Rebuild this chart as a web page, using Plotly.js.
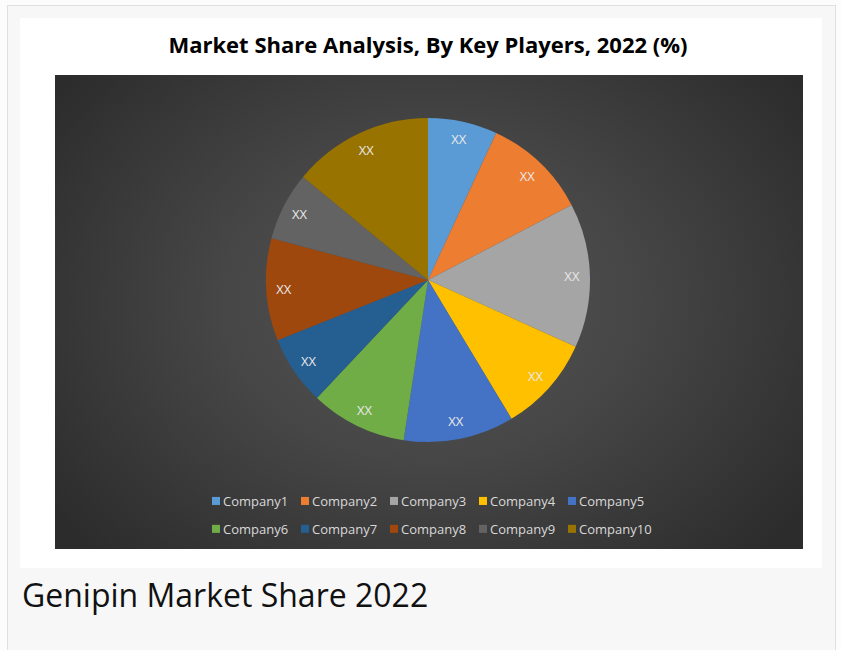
<!DOCTYPE html>
<html><head><meta charset="utf-8">
<script src="https://cdn.plot.ly/plotly-3.0.1.min.js"></script>
<style>
html,body{margin:0;padding:0;width:841px;height:650px;overflow:hidden;background:#fcfcfc;}
#frame{position:absolute;left:7px;top:5px;width:827px;height:660px;border:1px solid #e0e0e0;background:#f7f7f7;}
#panel{position:absolute;left:20px;top:18px;width:802px;height:550px;background:#fff;}
#dark{position:absolute;left:55px;top:75px;width:748px;height:474px;background:radial-gradient(ellipse 62% 75% at 50% 48%, #555 0%, #464646 45%, #2c2c2c 100%);}
#chart{position:absolute;left:20px;top:18px;width:802px;height:550px;}
#caption{position:absolute;left:22px;top:579px;font-family:'Open Sans',sans-serif;font-size:32px;line-height:32px;color:#111;white-space:nowrap;}
</style>
</head><body>
<div id="frame"></div>
<div id="panel"></div>
<div id="dark"></div>
<div id="chart"></div>
<div id="caption">Genipin Market Share 2022</div>
<script>
const companies = ['Company1','Company2','Company3','Company4','Company5','Company6','Company7','Company8','Company9','Company10'];
const shares = [6.9, 10.4, 14.4, 9.6, 11.0, 9.6, 6.9, 10.2, 6.8, 14.0];
const sliceLabels = ['XX','XX','XX','XX','XX','XX','XX','XX','XX','XX'];
const colors = ['#5B9BD5','#ED7D31','#A5A5A5','#FFC000','#4472C4','#70AD47','#255E91','#9E480E','#636363','#997300'];
const chartTitle = 'Market Share Analysis, By Key Players, 2022 (%)';

const W = 802, H = 550, ml = 150, gsw = 490, mr = W - ml - gsw;
const cx = 408, cy = 262, R = 162;
const dom = {
  x: [(cx - R - ml) / gsw, (cx + R - ml) / gsw],
  y: [(H - cy - R) / H, (H - cy + R) / H]
};

const base = {
  type: 'pie', labels: companies, values: shares, sort: false,
  direction: 'clockwise', rotation: 0, domain: dom
};

const pieTrace = Object.assign({}, base, {
  marker: {colors: colors, line: {width: 0}},
  textinfo: 'none', hoverinfo: 'label+percent', showlegend: true
});
const labelTrace = Object.assign({}, base, {
  hole: 0.78, text: sliceLabels, textinfo: 'text', textposition: 'inside',
  insidetextorientation: 'horizontal',
  textfont: {family: 'Open Sans', size: 13, color: '#e8e8e8'},
  marker: {colors: companies.map(() => 'rgba(0,0,0,0)'), line: {width: 0}},
  showlegend: false, hoverinfo: 'skip'
});

const layout = {
  width: W, height: H,
  margin: {l: ml, r: mr, t: 0, b: 0},
  paper_bgcolor: 'rgba(0,0,0,0)', plot_bgcolor: 'rgba(0,0,0,0)',
  title: {text: '<b>' + chartTitle + '</b>', xref: 'container', yref: 'container',
    x: 408 / W, y: 1 - 27 / H, xanchor: 'center', yanchor: 'middle',
    font: {family: 'Open Sans', size: 22, color: '#000'}},
  showlegend: true,
  legend: {orientation: 'h', x: (163 - ml) / gsw, xanchor: 'left',
    y: (H - 496) / H, yanchor: 'middle',
    font: {family: 'Open Sans', size: 13, color: '#d9d9d9'},
    bgcolor: 'rgba(0,0,0,0)', entrywidth: 44, entrywidthmode: 'pixels',
    traceorder: 'normal'}
};

Plotly.newPlot('chart', [pieTrace, labelTrace], layout, {displayModeBar: false, staticPlot: true}).then(function (gd) {
  // smaller legend swatches sitting just left of the text, as in the reference
  gd.querySelectorAll('.legend path.legendpie').forEach(function (p) {
    p.setAttribute('transform', 'translate(33,0) scale(0.67)');
  });
  gd.querySelectorAll('.legend .scrollbox').forEach(function (g) {
    g.removeAttribute('clip-path');
  });
  // wider row spacing, as in the reference
  const items = Array.from(gd.querySelectorAll('.legend .traces'));
  const parsed = items.map(function (el) {
    const m = /translate\(([-\d.]+)[ ,]+([-\d.]+)\)/.exec(el.getAttribute('transform') || '');
    return m ? {el: el, x: +m[1], y: +m[2]} : null;
  }).filter(Boolean);
  const rows = Array.from(new Set(parsed.map(function (p) { return p.y; }))).sort(function (a, b) { return a - b; });
  parsed.forEach(function (p) {
    const dy = rows.indexOf(p.y) === 0 ? -3 : 5;
    p.el.setAttribute('transform', 'translate(' + p.x + ',' + (p.y + dy) + ')');
  });
});
</script>
</body></html>
